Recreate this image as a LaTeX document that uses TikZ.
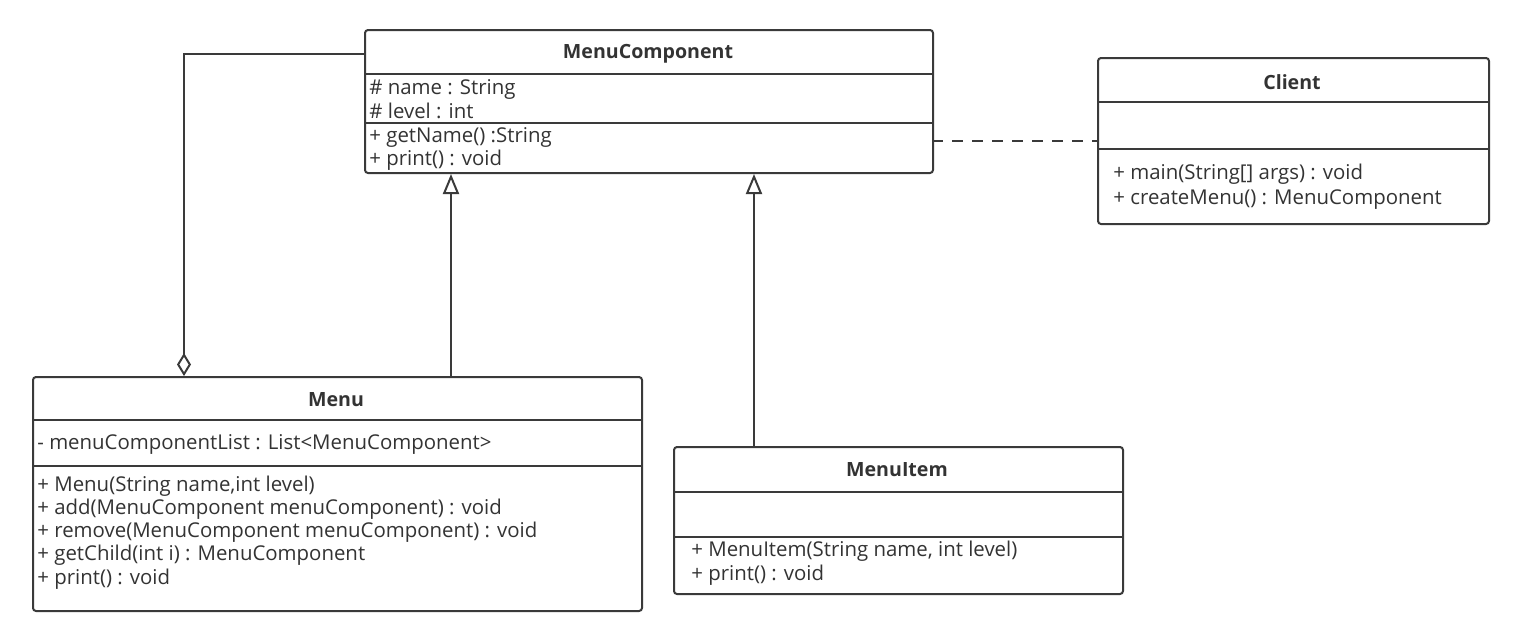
\documentclass[tikz,border=0pt]{standalone}
\usepackage{fontspec}
\setmainfont{Open Sans}
\usetikzlibrary{positioning, arrows.meta}
\definecolor{umlline}{HTML}{3A3A3A}
\definecolor{umltext}{HTML}{333333}
\tikzset{
  umlclass/.style={draw=umlline, line width=1pt, rounded corners=1.5pt,
    anchor=north west, inner sep=0pt},
  divider/.style={draw=umlline, line width=1pt},
  classname/.style={font=\fontsize{9.8}{11}\selectfont\bfseries, text=umltext, inner sep=0pt},
  member/.style={font=\fontsize{10.2}{11}\selectfont, text=umltext, anchor=base west, inner sep=0pt},
  inherit/.style={draw=umlline, line width=1pt, -{Triangle[open, length=10pt, width=8pt]}},
  aggregate/.style={draw=umlline, line width=1pt, {Diamond[open, length=11.5pt, width=7pt]}-},
  depend/.style={draw=umlline, line width=1pt, dash pattern=on 5.5pt off 4.5pt},
}

\begin{document}
\begin{tikzpicture}[x=0.5pt, y=-0.5pt]
  \useasboundingbox (0,0) rectangle (1528,638);

  % classes
  \node[umlclass, minimum width=284pt, minimum height=71.5pt] (mcomp) at (364,29) {};
  \draw[divider] (364,74) -- (932,74);
  \draw[divider] (364,123) -- (932,123);
  \node[classname] (mcompname) at (648,54) {MenuComponent};
  \node[member] (mcname) at (369,94) {\# name : String};
  \node[member] (mclevel) at (369,118) {\# level : int};
  \node[member] (mcget) at (369,142) {+ getName() :String};
  \node[member] (mcprint) at (369,165) {+ print() : void};

  \node[umlclass, minimum width=195.5pt, minimum height=83pt] (client) at (1097,57) {};
  \draw[divider] (1097,102) -- (1488,102);
  \draw[divider] (1097,149) -- (1488,149);
  \node[classname] (clientname) at (1292,82) {Client};
  \node[member] (clmain) at (1113,179) {+ main(String[] args) : void};
  \node[member] (clcreate) at (1113,204) {+ createMenu() : MenuComponent};

  \node[umlclass, minimum width=304.5pt, minimum height=117pt] (menu) at (32,376) {};
  \draw[divider] (32,420) -- (641,420);
  \draw[divider] (32,466) -- (641,466);
  \node[classname] (menuname) at (336,400) {Menu};
  \node[member] (mlist) at (37,449) {- menuComponentList : List<MenuComponent>};
  \node[member] (mctor) at (37,491) {+ Menu(String name,int level)};
  \node[member] (madd) at (37,514) {+ add(MenuComponent menuComponent) : void};
  \node[member] (mremove) at (37,537) {+ remove(MenuComponent menuComponent) : void};
  \node[member] (mchild) at (37,560) {+ getChild(int i) : MenuComponent};
  \node[member] (mprint) at (37,584) {+ print() : void};

  \node[umlclass, minimum width=224.5pt, minimum height=73.5pt] (item) at (673,446) {};
  \draw[divider] (673,492) -- (1122,492);
  \draw[divider] (673,537) -- (1122,537);
  \node[classname] (itemname) at (897,470) {MenuItem};
  \node[member] (ictor) at (691,556) {+ MenuItem(String name, int level)};
  \node[member] (iprint) at (691,580) {+ print() : void};

  % relations
  \coordinate (menuup) at (451,376);
  \coordinate (itemup) at (754,446);
  \coordinate (aggbend) at (184,54);
  \coordinate (deprow) at (932,141);
  \draw[inherit] (menuup) -- (menuup |- mcomp.south);
  \draw[inherit] (itemup) -- (itemup |- mcomp.south);
  \draw[aggregate] (menu.north -| aggbend) -- (aggbend) -- (aggbend -| mcomp.west);
  \draw[depend] (deprow) -- (deprow -| client.west);
\end{tikzpicture}
\end{document}
